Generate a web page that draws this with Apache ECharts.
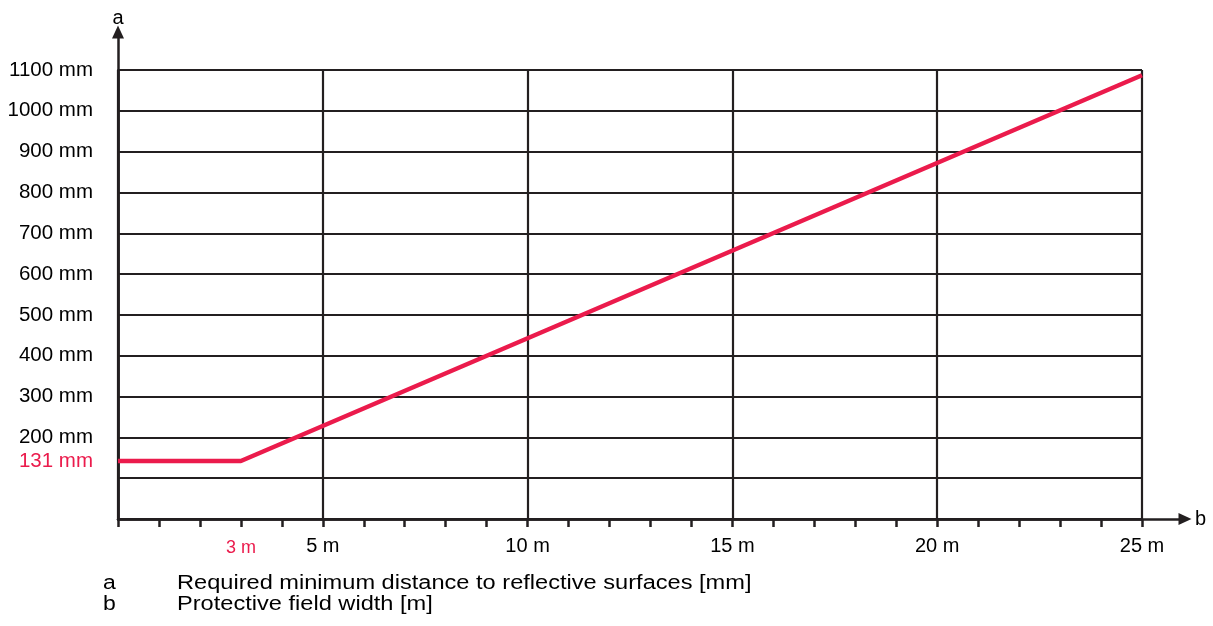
<!DOCTYPE html>
<html>
<head>
<meta charset="utf-8">
<script src="https://cdn.jsdelivr.net/npm/echarts@6/dist/echarts.min.js"></script>
<style>
html,body{margin:0;padding:0;background:#fff;}
#main{width:1213px;height:626px;}
</style>
</head>
<body>
<div id="main"></div>
<script>
// curve: protective field width [m] -> min distance [mm]
var widthM = [0, 3, 25];
var distMm = [142, 142, 1087];

// axis labels
var xLabelValues = [3, 5, 10, 15, 20, 25];
var xMarked = 3;
var yLabelValues = [200, 300, 400, 500, 600, 700, 800, 900, 1000, 1100];
var flatLevel = 142;
var flatLabel = '131 mm';

// key under the chart
var keyLetters = ['a', 'b'];
var keyTexts = ['Required minimum distance to reflective surfaces [mm]', 'Protective field width [m]'];

var red = '#EB1B4C';
var ink = '#231F20';
var font = 'Liberation Sans';

var myChart = echarts.init(document.getElementById('main'));

var graphics = [];
for (var i = 0; i < keyLetters.length; i++) {
	graphics.push({type: 'text', x: 103, y: 583 + i * 21, scaleX: 1.15,
		style: {text: keyLetters[i], font: '20px "' + font + '"', fill: '#000', verticalAlign: 'middle'}});
	graphics.push({type: 'text', x: 177, y: 583 + i * 21, scaleX: 1.18,
		style: {text: keyTexts[i], font: '20px "' + font + '"', fill: '#000', verticalAlign: 'middle'}});
}

var option = {
	animation: false,
	grid: [
		{left: 118, right: 71, top: 70, bottom: 107},
		{left: 118, right: 28, top: 32, bottom: 107}
	],
	xAxis: [{
		type: 'value', gridIndex: 0, min: 0, max: 25, interval: 1,
		axisLine: {show: true, lineStyle: {color: ink, width: 2.5}},
		axisTick: {show: true, length: 8, lineStyle: {color: ink, width: 2.5}},
		splitLine: {show: false},
		axisLabel: {
			interval: 0, margin: 17, color: '#000', fontFamily: font, fontSize: 20,
			customValues: xLabelValues,
			formatter: function(v) {
				if (v == xMarked) return '{r|' + v + ' m}';
				return v + ' m';
			},
			rich: {r: {color: red, fontSize: 18, fontFamily: font, padding: [3, 0, 0, 0]}}
		}
	}, {
		// vertical grid lines every 5 m
		type: 'value', gridIndex: 0, min: 0, max: 25, interval: 5,
		axisLine: {show: false}, axisTick: {show: false}, axisLabel: {show: false},
		splitLine: {show: true, lineStyle: {color: ink, width: 2.2}}
	}, {
		// long axis with arrow
		type: 'value', gridIndex: 1, min: 0, max: 1,
		name: 'b', nameGap: 10, nameTextStyle: {color: '#000', fontFamily: font, fontSize: 20},
		axisLine: {show: true, symbol: ['none', 'triangle'], symbolSize: [12, 13],
			lineStyle: {color: ink, width: 2.5}},
		axisTick: {show: false}, axisLabel: {show: false}, splitLine: {show: false}
	}],
	yAxis: [{
		type: 'value', gridIndex: 0, min: 0, max: 1100, interval: 100,
		axisLine: {show: true, lineStyle: {color: ink, width: 2.5}},
		axisTick: {show: false},
		splitLine: {show: true, lineStyle: {color: ink, width: 2.2}},
		axisLabel: {
			margin: 25, color: '#000', fontFamily: font, fontSize: 20.5,
			customValues: [flatLevel].concat(yLabelValues),
			formatter: function(v) {
				if (v == flatLevel) return '{r|' + flatLabel + '}';
				return v + ' mm';
			},
			rich: {r: {color: red, fontSize: 20.5, fontFamily: font}}
		}
	}, {
		type: 'value', gridIndex: 1, min: 0, max: 1,
		name: 'a', nameGap: 4, nameTextStyle: {color: '#000', fontFamily: font, fontSize: 20},
		axisLine: {show: true, symbol: ['none', 'triangle'], symbolSize: [12, 13],
			lineStyle: {color: ink, width: 2.5}},
		axisTick: {show: false}, axisLabel: {show: false}, splitLine: {show: false}
	}],
	series: [{
		type: 'line',
		xAxisIndex: 0, yAxisIndex: 0,
		data: widthM.map(function(x, idx) { return [x, distMm[idx]]; }),
		symbol: 'none',
		lineStyle: {color: red, width: 4.5},
		z: 10
	}],
	graphic: graphics
};
myChart.setOption(option);
</script>
</body>
</html>
